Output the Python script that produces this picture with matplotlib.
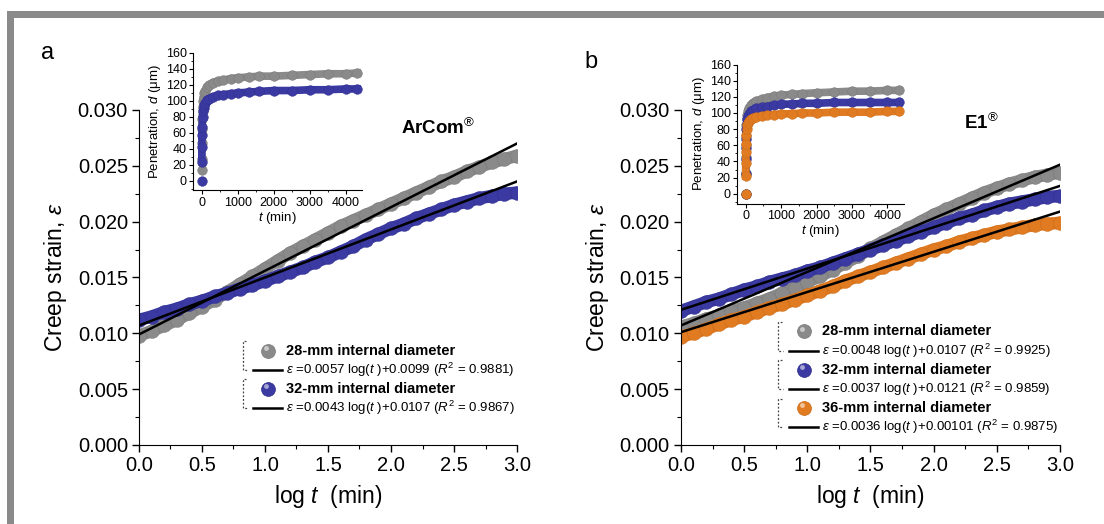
import matplotlib
matplotlib.use('Agg')
import matplotlib.pyplot as plt
from matplotlib.patches import Rectangle
from matplotlib.ticker import MultipleLocator, FormatStrFormatter

plt.rcParams['font.family'] = ['Liberation Sans', 'DejaVu Sans']
plt.rcParams['mathtext.fontset'] = 'custom'
plt.rcParams['mathtext.rm'] = 'Liberation Sans'
plt.rcParams['mathtext.it'] = 'Liberation Sans:italic'
plt.rcParams['mathtext.bf'] = 'Liberation Sans:bold'

# ---- main panels: creep strain vs log t (strain in units of 1e-3) ----
log_t = [0.0, 0.1, 0.2, 0.3, 0.4, 0.5, 0.6, 0.7, 0.8, 0.9, 1.0,
         1.1, 1.2, 1.3, 1.4, 1.5, 1.6, 1.7, 1.8, 1.9, 2.0,
         2.1, 2.2, 2.3, 2.4, 2.5, 2.6, 2.7, 2.8, 2.9, 3.0]

arcom_28 = [9.8, 10.2, 10.7, 11.2, 11.8, 12.4, 13.0, 13.7, 14.4, 15.1, 15.8,
            16.5, 17.2, 17.8, 18.4, 19.0, 19.6, 20.1, 20.6, 21.1, 21.6,
            22.1, 22.6, 23.1, 23.6, 24.0, 24.5, 24.9, 25.3, 25.6, 25.9]
arcom_32 = [11.2, 11.5, 11.9, 12.2, 12.6, 12.9, 13.3, 13.6, 14.0, 14.3, 14.7,
            15.1, 15.5, 15.9, 16.4, 16.8, 17.3, 17.8, 18.4, 18.9, 19.4,
            19.8, 20.3, 20.7, 21.1, 21.5, 21.8, 22.1, 22.3, 22.5, 22.6]

e1_28 = [10.6, 10.9, 11.3, 11.6, 12.0, 12.3, 12.7, 13.1, 13.6, 14.1, 14.6,
         15.1, 15.7, 16.3, 16.9, 17.6, 18.2, 18.8, 19.4, 20.0, 20.6,
         21.1, 21.6, 22.1, 22.6, 23.0, 23.4, 23.7, 24.0, 24.2, 24.4]
e1_32 = [12.0, 12.4, 12.8, 13.1, 13.5, 13.9, 14.2, 14.6, 14.9, 15.2, 15.6,
         15.9, 16.3, 16.7, 17.1, 17.5, 17.9, 18.3, 18.7, 19.1, 19.5,
         19.9, 20.3, 20.6, 21.0, 21.3, 21.6, 21.8, 22.0, 22.2, 22.3]
e1_36 = [9.7, 10.0, 10.4, 10.8, 11.2, 11.5, 11.9, 12.3, 12.6, 13.0, 13.4,
         13.8, 14.2, 14.7, 15.1, 15.5, 15.9, 16.3, 16.7, 17.1, 17.5,
         17.8, 18.2, 18.5, 18.8, 19.1, 19.3, 19.5, 19.7, 19.8, 19.9]

# linear fits  eps = slope*log(t) + intercept
arcom_slopes = [0.0057, 0.0043]
arcom_icepts = [0.0099, 0.0107]
arcom_r2 = ['0.9881', '0.9867']
arcom_icept_txt = ['0.0099', '0.0107']

e1_slopes = [0.0048, 0.0037, 0.0036]
e1_icepts = [0.0107, 0.0121, 0.0101]
e1_r2 = ['0.9925', '0.9859', '0.9875']
e1_icept_txt = ['0.0107', '0.0121', '0.00101']

sizes = ['28', '32', '36']

# ---- insets: penetration d (um) vs t (min) ----
t_min = [0, 1, 3, 6, 10, 20, 35, 50, 75, 100, 150, 200, 300, 450, 600,
         800, 1000, 1300, 1600, 2000, 2500, 3000, 3500, 4000, 4320]
pen_arcom_28 = [14, 27, 48, 65, 78, 92, 100, 105, 110, 113, 117, 120, 123, 125, 126,
                128, 129, 130, 131, 131, 132, 133, 134, 134, 135]
pen_arcom_32 = [0, 24, 42, 57, 68, 80, 87, 91, 95, 98, 101, 103, 105, 107, 108,
                109, 110, 111, 112, 113, 113, 114, 114, 115, 115]
pen_e1_28 = [0, 26, 45, 60, 72, 85, 93, 98, 103, 106, 110, 112, 115, 117, 119,
             121, 122, 123, 124, 125, 126, 127, 127, 128, 128]
pen_e1_32 = [0, 25, 43, 57, 68, 80, 87, 92, 96, 99, 102, 104, 106, 107, 108,
             110, 111, 111, 112, 112, 113, 113, 113, 113, 113]
pen_e1_36 = [0, 22, 38, 52, 62, 73, 80, 85, 88, 90, 92, 94, 95, 96, 97,
             98, 99, 99, 100, 100, 101, 101, 101, 102, 102]

colors = ['#8a8a8a', '#3a3aa2', '#e07b22']
edges = ['#777777', '#30308e', '#c86a18']


def band(ax, x, y, i, lw, ms):
    ax.plot(x, y, '-', color=colors[i], lw=lw, solid_capstyle='round', zorder=2)
    ax.plot(x, y, 'o', ms=ms, color=colors[i], mec=edges[i], mew=0.3, zorder=2)


def style_main(ax):
    ax.set_xlim(0, 3)
    ax.set_ylim(0, 0.030)
    ax.spines['top'].set_visible(False)
    ax.spines['right'].set_visible(False)
    ax.xaxis.set_major_locator(MultipleLocator(0.5))
    ax.xaxis.set_minor_locator(MultipleLocator(0.25))
    ax.yaxis.set_major_locator(MultipleLocator(0.005))
    ax.yaxis.set_minor_locator(MultipleLocator(0.0025))
    ax.xaxis.set_major_formatter(FormatStrFormatter('%.1f'))
    ax.yaxis.set_major_formatter(FormatStrFormatter('%.3f'))
    ax.tick_params(which='major', direction='out', length=5, width=1, labelsize=14.5, pad=3)
    ax.tick_params(which='minor', direction='out', length=3, width=0.8)
    ax.set_xlabel(r'log $t$  (min)', fontsize=16.5)
    ax.xaxis.set_label_coords(0.5, -0.112)
    ax.set_ylabel(r'Creep strain, $\varepsilon$', fontsize=16.5)


def style_inset(ax):
    ax.set_facecolor('none')
    ax.set_xlim(-245, 4470)
    ax.set_ylim(-12, 160)
    ax.spines['top'].set_visible(False)
    ax.spines['right'].set_visible(False)
    ax.xaxis.set_major_locator(MultipleLocator(1000))
    ax.xaxis.set_minor_locator(MultipleLocator(500))
    ax.yaxis.set_major_locator(MultipleLocator(20))
    ax.yaxis.set_minor_locator(MultipleLocator(10))
    ax.tick_params(which='major', direction='out', length=3, width=0.8, labelsize=9, pad=1.5)
    ax.tick_params(which='minor', direction='out', length=1.5, width=0.6)
    ax.set_xlabel(r'$t$ (min)', fontsize=9.5, labelpad=1)
    ax.set_ylabel(r'Penetration, $d$ ($\mathrm{\mu}$m)', fontsize=9.5, labelpad=2)


def key(ax, x0, y_top, idx, size, slope, icept, r2):
    tr = ax.transAxes
    ym = y_top - 0.1145 * idx
    yl = ym - 0.057
    # dashed bracket
    ax.plot([x0 + 0.010, x0, x0, x0 + 0.012], [ym + 0.028, ym + 0.028, yl, yl],
            ls=(0, (1.5, 1.5)), color='#444444', lw=0.9, transform=tr, clip_on=False)
    ax.plot([x0 + 0.068], [ym], 'o', ms=10, color=colors[idx], mec=edges[idx], mew=0.5,
            transform=tr, clip_on=False, zorder=5)
    ax.plot([x0 + 0.063], [ym + 0.008], 'o', ms=3.5, color='white', alpha=0.55, mec='none',
            transform=tr, clip_on=False, zorder=6)
    ax.text(x0 + 0.115, ym, f'{size}-mm internal diameter', fontsize=10.5, fontweight='bold',
            va='center', ha='left', transform=tr)
    ax.plot([x0 + 0.028, x0 + 0.105], [yl, yl], color='black', lw=1.8, transform=tr, clip_on=False)
    ax.text(x0 + 0.115, yl, r'$\varepsilon$ =' + f'{slope} log(' + r'$t$ )+' + icept
            + r' ($R^2$ = ' + r2 + ')', fontsize=9.5, va='center', ha='left', transform=tr)


fig = plt.figure(figsize=(11.04, 5.24), dpi=100)
fig.add_artist(Rectangle((7 / 1104, 1 - 18 / 524), 1 - 7 / 1104, 7 / 524,
                         transform=fig.transFigure, color='#8a8a8a', lw=0))
fig.add_artist(Rectangle((7 / 1104, 0), 7 / 1104, 1 - 11 / 524,
                         transform=fig.transFigure, color='#8a8a8a', lw=0))

axA = fig.add_axes([0.1259, 0.1508, 0.3424, 0.6393])
axB = fig.add_axes([0.6168, 0.1508, 0.3433, 0.6393])
insA = fig.add_axes([0.1748, 0.6365, 0.1535, 0.2624])
insB = fig.add_axes([0.6676, 0.6116, 0.1513, 0.2653])

# panel a
for i, ser in enumerate([arcom_28, arcom_32]):
    band(axA, log_t, [v / 1000 for v in ser], i, lw=9, ms=10)
for s, b in zip(arcom_slopes, arcom_icepts):
    axA.plot([0, 3], [b, s * 3 + b], color='black', lw=1.8, zorder=3)
style_main(axA)
axA.yaxis.set_label_coords(-0.186, 0.5)
for i in range(2):
    key(axA, 0.274, 0.282, i, sizes[i], arcom_slopes[i], arcom_icept_txt[i], arcom_r2[i])
axA.text(0.79, 0.946, r'ArCom$^{\circledR}$', fontsize=13.5, fontweight='bold',
         ha='center', va='center', transform=axA.transAxes)
axA.text(-0.241, 1.170, 'a', fontsize=17, ha='center', va='center', transform=axA.transAxes)

# panel b
for i, ser in enumerate([e1_28, e1_32, e1_36]):
    band(axB, log_t, [v / 1000 for v in ser], i, lw=9, ms=10)
for s, b in zip(e1_slopes, e1_icepts):
    axB.plot([0, 3], [b, s * 3 + b], color='black', lw=1.8, zorder=3)
style_main(axB)
axB.yaxis.set_label_coords(-0.184, 0.5)
for i in range(3):
    key(axB, 0.256, 0.339, i, sizes[i], e1_slopes[i], e1_icept_txt[i], e1_r2[i])
axB.text(0.793, 0.961, r'E1$^{\circledR}$', fontsize=13.5, fontweight='bold',
         ha='center', va='center', transform=axB.transAxes)
axB.text(-0.237, 1.143, 'b', fontsize=17, ha='center', va='center', transform=axB.transAxes)

# insets
for i, ser in enumerate([pen_arcom_28, pen_arcom_32]):
    insA.plot(t_min[1:], ser[1:], '-', color=colors[i], lw=5.5, zorder=2)
    insA.plot(t_min, ser, 'o', ms=7, color=colors[i], mec=edges[i], mew=0.3, zorder=2)
style_inset(insA)

for i, ser in enumerate([pen_e1_28, pen_e1_32, pen_e1_36]):
    insB.plot(t_min[1:], ser[1:], '-', color=colors[i], lw=5.5, zorder=2)
    insB.plot(t_min, ser, 'o', ms=7, color=colors[i], mec=edges[i], mew=0.3, zorder=2)
style_inset(insB)

fig.savefig('out.png', dpi=100)
